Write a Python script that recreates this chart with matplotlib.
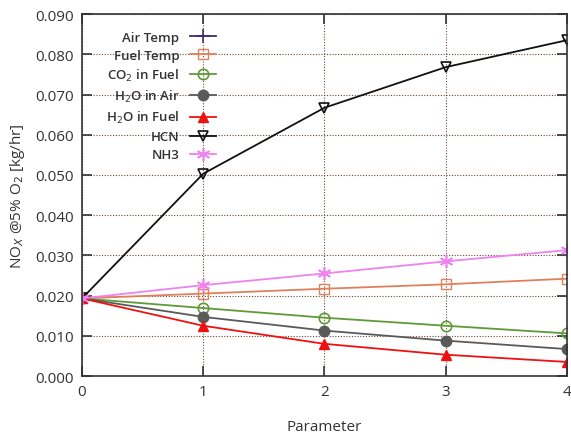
import matplotlib.pyplot as plt
import matplotlib.ticker as mticker

plt.rcParams['font.family'] = ['Open Sans', 'DejaVu Sans']

x = [0, 1, 2, 3, 4]
air_temp_x = [0]
air_temp = [0.0193]
fuel_temp = [0.0193, 0.0205, 0.0217, 0.0228, 0.0242]
co2_fuel = [0.0193, 0.0169, 0.0145, 0.0125, 0.0106]
h2o_air = [0.0193, 0.0147, 0.0113, 0.0088, 0.0067]
h2o_fuel = [0.0193, 0.0125, 0.0080, 0.0053, 0.0035]
hcn = [0.0193, 0.0503, 0.0667, 0.0768, 0.0835]
nh3 = [0.0193, 0.0226, 0.0255, 0.0285, 0.0313]

fig = plt.figure(figsize=(5.71, 4.35), dpi=100)
ax = fig.add_axes([0.1436, 0.1333, 0.849, 0.832])

ms = 7.5
ax.plot(air_temp_x, air_temp, '-', marker='+', color='#3b2f6e', ms=ms + 2, mew=1.2, lw=1.3, label='Air Temp')
ax.plot(x, fuel_temp, '-', marker='s', color='#e2805a', mfc='none', ms=ms, mew=1.0, lw=1.3, label='Fuel Temp')
ax.plot(x, co2_fuel, '-', marker='o', color='#5e9a38', mfc='none', ms=ms, mew=1.2, lw=1.3, label='CO$_2$ in Fuel')
ax.plot(x, h2o_air, '-', marker='o', color='#5a5a5a', ms=ms, lw=1.3, label='H$_2$O in Air')
ax.plot(x, h2o_fuel, '-', marker='^', color='#ee1111', ms=ms, lw=1.3, label='H$_2$O in Fuel')
ax.plot(x, hcn, '-', marker='v', color='#111111', mfc='none', ms=ms, mew=1.2, lw=1.3, label='HCN')
ax.plot(x, nh3, '-', marker=(6, 2, 0), color='#ee82ee', ms=ms + 2, mew=1.2, lw=1.3, label='NH3')

ax.set_xlim(0, 4)
ax.set_ylim(0, 0.09)
ax.set_xticks(x)
ax.yaxis.set_major_locator(mticker.MultipleLocator(0.01))
ax.yaxis.set_major_formatter(mticker.FormatStrFormatter('%.3f'))
ax.grid(True, linestyle=(0, (1, 1.5)), color='#6a4a3a', lw=0.8)
ax.tick_params(direction='in', length=7, width=1.2, top=True, right=True,
               labelsize=11, colors='#333333', pad=6)
for s in ax.spines.values():
    s.set_color('#333333')
    s.set_linewidth(1.2)

ax.set_xlabel('Parameter', fontsize=11, color='#333333', labelpad=14)
ax.set_ylabel('NO$_X$ @5% O$_2$ [kg/hr]', fontsize=11, color='#333333', labelpad=6)

leg = ax.legend(loc='upper left', frameon=False, markerfirst=False, fontsize=9.5,
                handlelength=2.0, labelspacing=0.38, borderaxespad=0.6,
                bbox_to_anchor=(0.022, 0.99))
for t in leg.get_texts():
    t.set_fontweight('semibold')
    t.set_color('#333333')
    t.set_ha('right')

fig.savefig('out.png', dpi=100, facecolor='white')
